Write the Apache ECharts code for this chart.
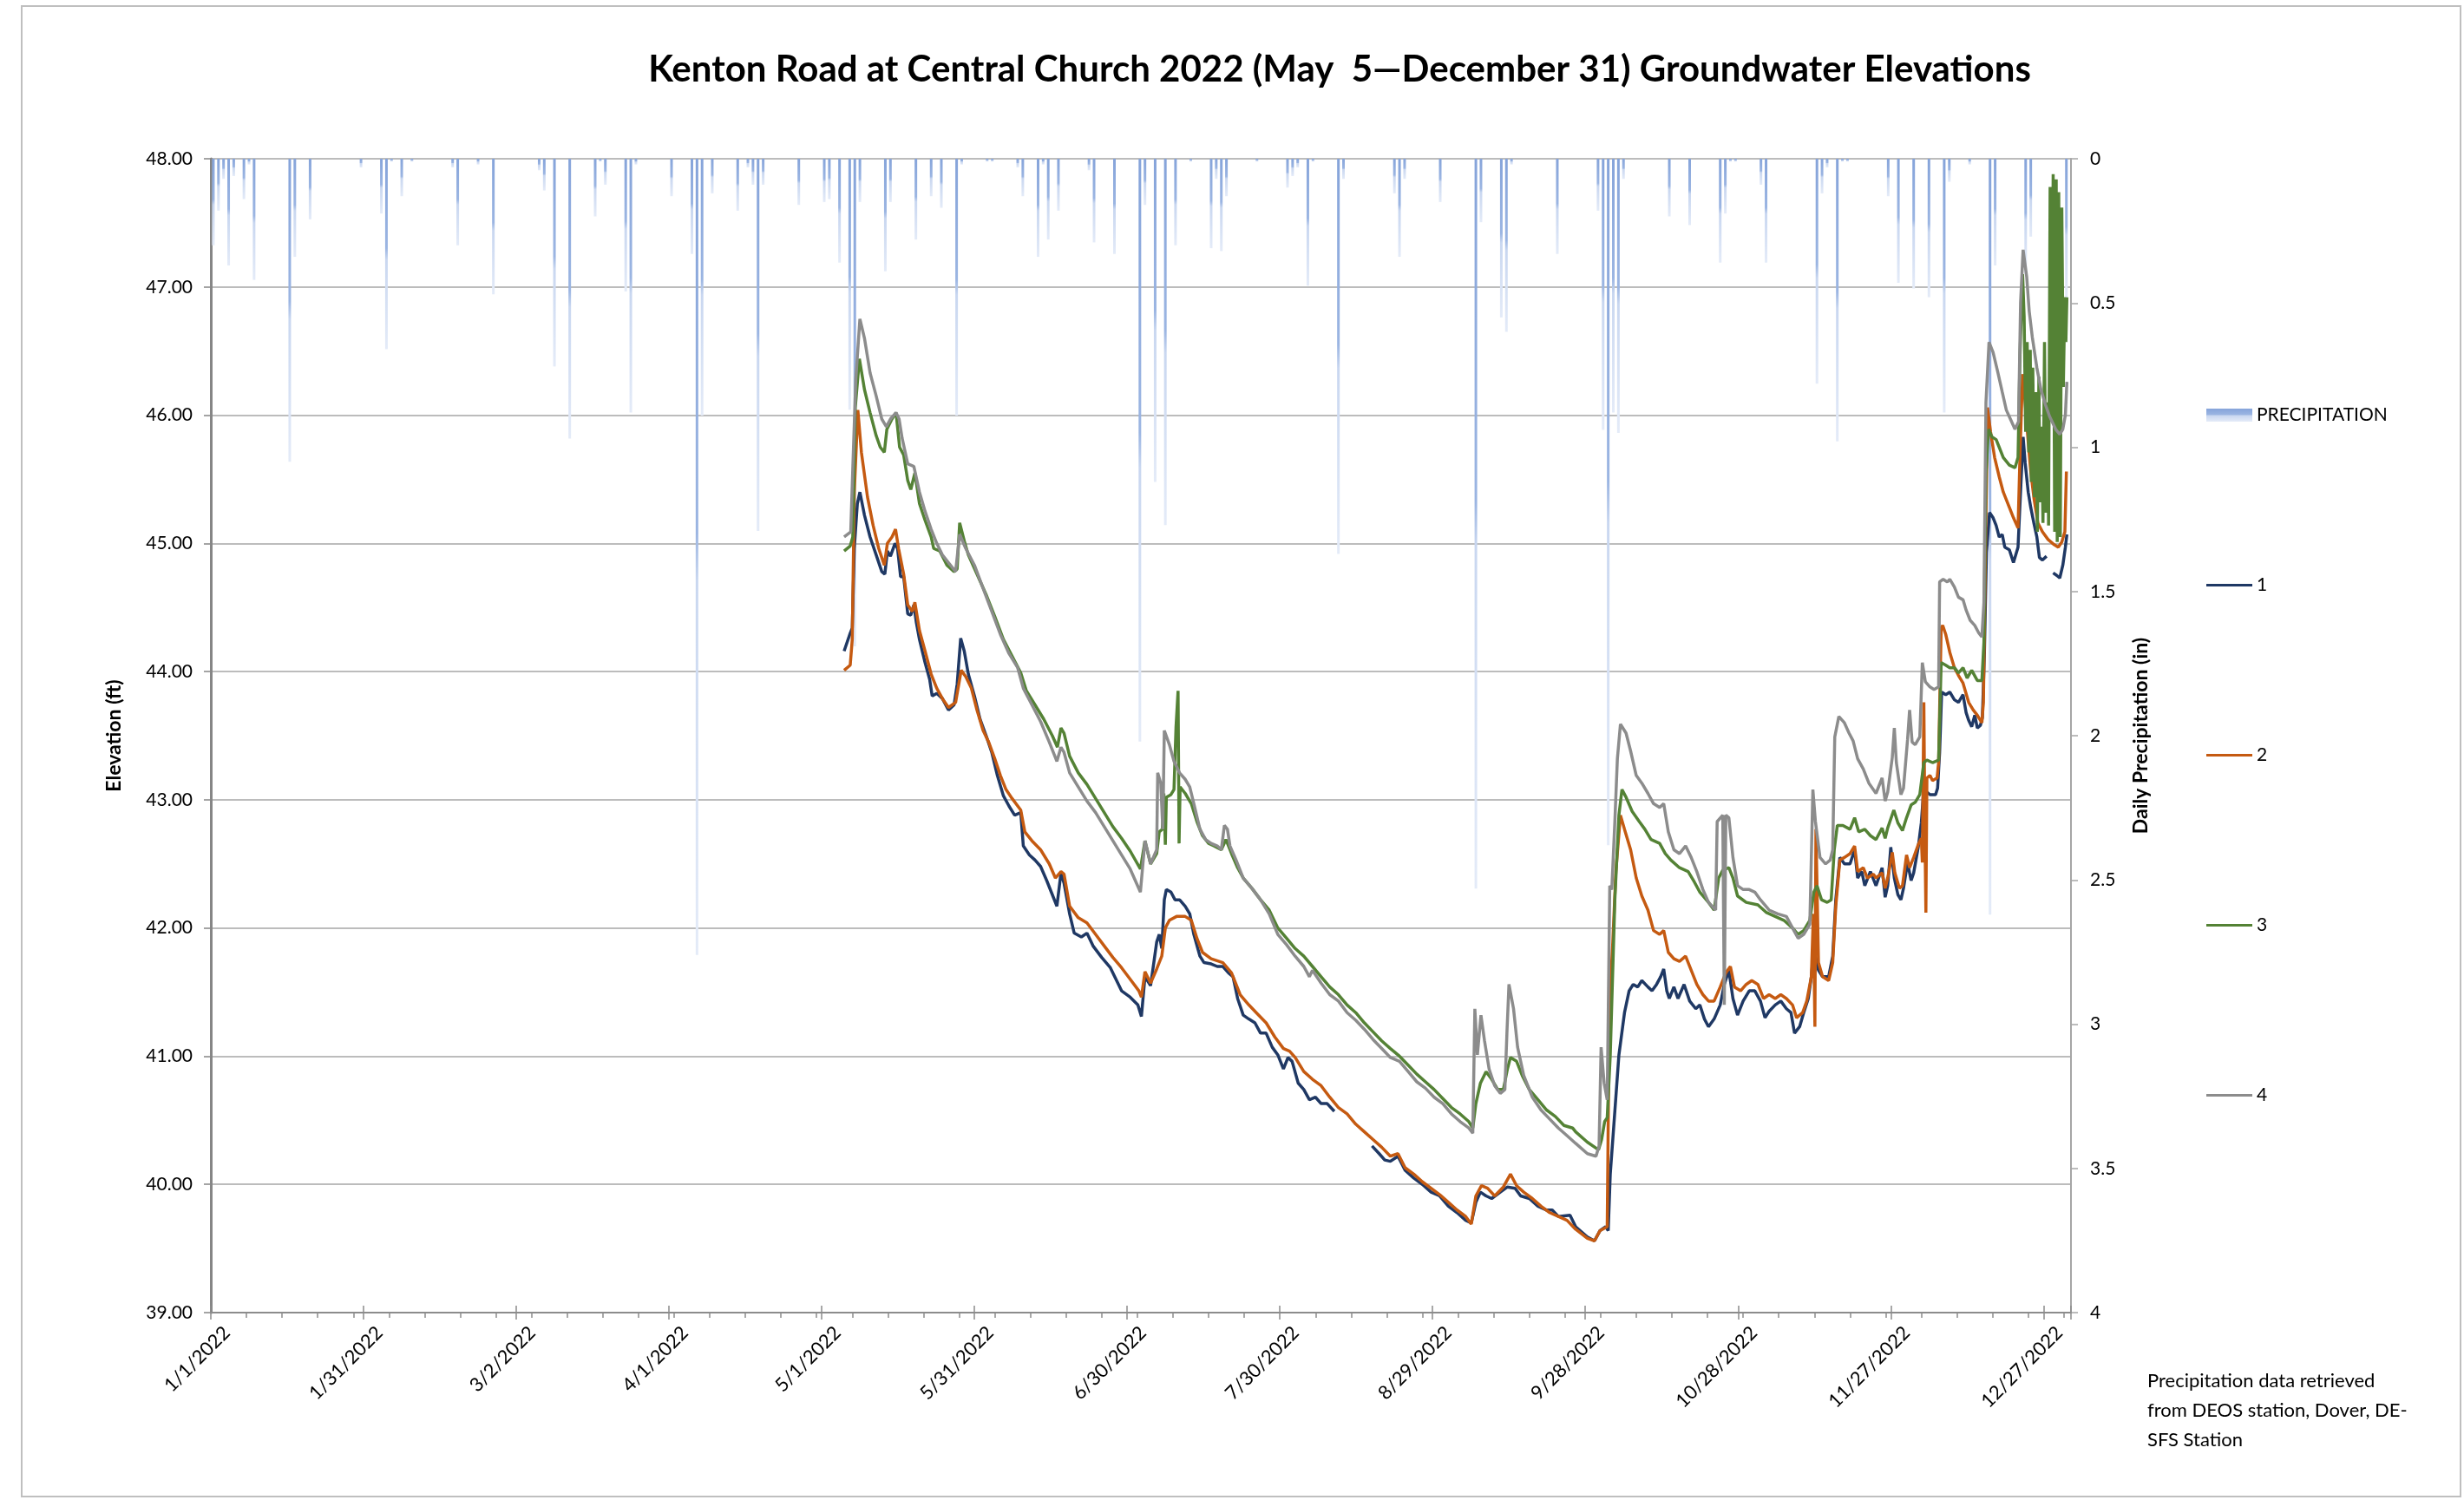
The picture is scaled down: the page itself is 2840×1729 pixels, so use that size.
<!DOCTYPE html>
<html>
<head>
<meta charset="utf-8">
<script src="https://cdn.jsdelivr.net/npm/echarts@6/dist/echarts.min.js"></script>
<style>
  html, body { margin: 0; padding: 0; background: #ffffff; }
  #chart { width: 2840px; height: 1729px; }
</style>
</head>
<body>
<div id="chart"></div>
<script>
// ---- Axis tick labels (one every 30 days from Jan 1) ----
const xTickLabels = ['1/1/2022', '1/31/2022', '3/2/2022', '4/1/2022', '5/1/2022', '5/31/2022',
  '6/30/2022', '7/30/2022', '8/29/2022', '9/28/2022', '10/28/2022', '11/27/2022', '12/27/2022'];

// ---- Daily precipitation, inches (days without rain omitted) ----
const precipitation = [
  ['1/1', 0.30], ['1/2', 0.18], ['1/3', 0.07], ['1/4', 0.37], ['1/5', 0.06], ['1/7', 0.14], ['1/8', 0.02], ['1/9', 0.42],
  ['1/16', 1.05], ['1/17', 0.34], ['1/20', 0.21], ['1/30', 0.03],
  ['2/3', 0.19], ['2/4', 0.66], ['2/5', 0.01], ['2/7', 0.13], ['2/9', 0.01], ['2/17', 0.03], ['2/18', 0.30], ['2/22', 0.02], ['2/25', 0.47],
  ['3/6', 0.04], ['3/7', 0.11], ['3/9', 0.72], ['3/12', 0.97], ['3/17', 0.20], ['3/18', 0.01], ['3/19', 0.09], ['3/23', 0.46], ['3/24', 0.88], ['3/25', 0.02],
  ['4/1', 0.13], ['4/5', 0.33], ['4/6', 2.76], ['4/7', 0.89], ['4/9', 0.12], ['4/14', 0.18], ['4/16', 0.03], ['4/17', 0.09], ['4/18', 1.29], ['4/19', 0.09], ['4/26', 0.16],
  ['5/1', 0.15], ['5/2', 0.14], ['5/4', 0.36], ['5/6', 0.87], ['5/7', 1.69], ['5/8', 0.15], ['5/13', 0.39], ['5/14', 0.15], ['5/19', 0.28], ['5/22', 0.13], ['5/24', 0.17], ['5/27', 0.89], ['5/28', 0.02],
  ['6/2', 0.01], ['6/3', 0.01], ['6/8', 0.03], ['6/9', 0.13], ['6/12', 0.34], ['6/13', 0.02], ['6/14', 0.28], ['6/16', 0.18], ['6/22', 0.04], ['6/23', 0.29], ['6/27', 0.33],
  ['7/2', 2.02], ['7/3', 0.16], ['7/5', 1.12], ['7/7', 1.27], ['7/9', 0.30], ['7/12', 0.01], ['7/16', 0.31], ['7/17', 0.07], ['7/18', 0.32], ['7/19', 0.13], ['7/25', 0.01], ['7/31', 0.10],
  ['8/1', 0.06], ['8/2', 0.03], ['8/4', 0.44], ['8/5', 0.01], ['8/10', 1.37], ['8/11', 0.07], ['8/21', 0.12], ['8/22', 0.34], ['8/23', 0.07], ['8/30', 0.15],
  ['9/6', 2.53], ['9/7', 0.22], ['9/11', 0.55], ['9/12', 0.60], ['9/13', 0.02], ['9/22', 0.33], ['9/30', 0.18],
  ['10/1', 0.94], ['10/2', 2.38], ['10/3', 0.88], ['10/4', 0.95], ['10/5', 0.07], ['10/14', 0.20], ['10/18', 0.23], ['10/24', 0.36], ['10/25', 0.19], ['10/26', 0.01], ['10/27', 0.01],
  ['11/1', 0.09], ['11/2', 0.36], ['11/12', 0.78], ['11/13', 0.12], ['11/14', 0.03], ['11/16', 0.98], ['11/17', 0.01], ['11/18', 0.01], ['11/26', 0.13], ['11/28', 0.43],
  ['12/1', 0.45], ['12/4', 0.48], ['12/7', 0.88], ['12/8', 0.08], ['12/12', 0.02], ['12/16', 2.62], ['12/17', 0.37], ['12/23', 0.40], ['12/24', 0.27], ['12/31', 0.50]
];

// ---- Groundwater elevation (ft) per well: [day of year (0 = Jan 1), elevation] ----
const well1 = [
  [124.4,44.16],[125.6,44.30],[126.0,44.34],[126.4,44.96],[127.0,45.31],[127.5,45.40],[128.4,45.22],[129.5,45.05],[130.7,44.91],[131.8,44.78],
  [132.4,44.76],[132.9,44.94],[133.5,44.90],[134.4,45.00],[134.9,44.96],[135.5,44.74],[136.1,44.74],[136.9,44.45],[137.5,44.44],[138.1,44.52],
  [138.6,44.38],[139.2,44.25],[140.3,44.07],[141.2,43.94],[141.7,43.81],[142.6,43.83],[143.7,43.79],[144.9,43.70],[146.0,43.74],[146.6,43.90],
  [147.3,44.26],[148.0,44.16],[148.8,43.98],[150.0,43.81],[151.1,43.63],[152.3,43.50],[153.4,43.37],[154.5,43.19],[155.7,43.03],[156.8,42.95],
  [157.9,42.88],[159.1,42.90],[159.6,42.64],[160.8,42.57],[161.9,42.53],[163.0,42.48],[164.2,42.37],[165.3,42.26],[166.2,42.17],[167.0,42.43],
  [167.6,42.35],[168.7,42.11],[169.6,41.96],[171.0,41.93],[172.1,41.96],[173.3,41.86],[175.0,41.77],[176.7,41.69],[177.8,41.60],[178.9,41.51],
  [180.6,41.46],[182.1,41.40],[182.8,41.31],[183.5,41.62],[184.6,41.55],[185.8,41.89],[186.3,41.95],[186.8,41.84],[187.3,42.22],[187.7,42.30],
  [188.6,42.28],[189.4,42.22],[190.3,42.22],[191.4,42.17],[192.3,42.11],[193.1,41.95],[194.3,41.78],[195.1,41.73],[196.5,41.72],[197.7,41.70],
  [198.8,41.70],[199.9,41.65],[200.8,41.62],[201.7,41.45],[202.8,41.32],[203.9,41.29],[205.1,41.26],[206.2,41.18],[207.3,41.18],[208.5,41.07],
  [209.6,41.01],[210.7,40.90],[211.6,40.99],[212.4,40.96],[213.6,40.79],[214.7,40.74],[215.8,40.66],[217.0,40.68],[218.1,40.63],[219.3,40.63],
  [220.7,40.57],[224.0,null],[228.1,40.30],[229.5,40.24],[230.6,40.19],[231.7,40.18],[233.2,40.22],[234.6,40.11],[236.3,40.05],[238.0,40.00],
  [239.7,39.94],[241.4,39.91],[243.1,39.83],[244.8,39.78],[246.5,39.72],[247.6,39.70],[248.5,39.86],[249.4,39.94],[250.5,39.91],[251.6,39.89],
  [253.3,39.94],[254.7,39.98],[256.2,39.97],[257.3,39.91],[259.0,39.89],[260.7,39.83],[262.4,39.80],[263.5,39.80],[264.7,39.75],[267.0,39.76],
  [268.1,39.67],[270.4,39.59],[271.8,39.56],[272.9,39.64],[274.0,39.67],[274.5,39.64],[274.9,40.08],[275.8,40.57],[276.6,41.01],[277.7,41.34],
  [278.6,41.51],[279.4,41.56],[280.3,41.54],[281.1,41.59],[282.3,41.54],[283.1,41.51],[284.0,41.56],[284.8,41.62],[285.4,41.68],[286.0,41.51],
  [286.5,41.45],[287.4,41.54],[288.2,41.45],[289.4,41.56],[290.5,41.43],[291.7,41.37],[292.5,41.40],[293.4,41.29],[294.2,41.23],[295.3,41.29],
  [296.5,41.40],[297.3,41.56],[298.2,41.67],[299.0,41.45],[299.9,41.32],[301.0,41.43],[302.2,41.51],[303.3,41.51],[304.4,41.43],[305.3,41.30],
  [306.1,41.35],[307.3,41.40],[308.4,41.43],[309.5,41.37],[310.4,41.34],[311.1,41.18],[312.1,41.23],[312.9,41.34],[313.8,41.45],[314.4,41.62],
  [314.9,41.84],[315.8,41.67],[316.6,41.62],[317.8,41.62],[318.6,41.78],[319.2,42.22],[320.0,42.55],[320.9,42.50],[322.0,42.50],[322.9,42.61],
  [323.5,42.39],[324.3,42.44],[324.9,42.33],[326.0,42.44],[327.1,42.33],[328.3,42.47],[328.9,42.24],[329.4,42.33],[330.0,42.63],[330.7,42.39],
  [331.4,42.26],[332.0,42.22],[332.5,42.31],[333.3,42.51],[334.0,42.37],[334.5,42.43],[335.4,42.63],[336.0,42.82],[336.5,43.09],[337.1,43.06],
  [337.7,43.04],[338.8,43.04],[339.2,43.09],[339.6,43.37],[340.0,43.84],[340.8,43.82],[341.6,43.84],[342.5,43.78],[343.3,43.76],[344.2,43.82],
  [344.8,43.68],[345.3,43.62],[345.9,43.57],[346.5,43.66],[347.0,43.56],[347.6,43.58],[348.0,43.64],[348.4,44.15],[348.8,44.93],[349.4,45.24],
  [350.1,45.20],[350.7,45.14],[351.3,45.05],[351.9,45.07],[352.4,44.97],[353.3,44.95],[354.1,44.85],[355.0,44.97],[355.4,45.32],[356.0,45.83],
  [356.4,45.63],[357.0,45.40],[357.5,45.28],[358.1,45.16],[358.7,45.05],[359.2,44.89],[359.8,44.87],[360.6,44.90],[361.2,null],[361.9,44.77],
  [362.6,44.75],[363.2,44.73],[363.8,44.83],[364.3,44.97],[364.6,45.07]
];

const well2 = [
  [124.4,44.01],[125.6,44.05],[126.0,44.25],[126.4,45.40],[127.1,46.04],[127.8,45.71],[129.0,45.36],[130.1,45.14],[131.2,44.96],[132.3,44.83],
  [132.9,45.00],[133.8,45.05],[134.5,45.11],[135.1,44.96],[136.1,44.76],[136.9,44.52],[137.8,44.47],[138.3,44.54],[139.2,44.32],[140.3,44.16],
  [141.5,43.98],[142.6,43.87],[143.7,43.79],[144.9,43.72],[146.3,43.76],[147.4,44.01],[148.3,43.96],[149.4,43.87],[150.5,43.70],[151.7,43.54],
  [152.8,43.45],[154.0,43.32],[155.1,43.19],[156.2,43.08],[157.4,43.01],[159.1,42.92],[159.9,42.75],[161.3,42.68],[163.0,42.61],[164.7,42.50],
  [165.9,42.39],[167.0,42.44],[167.6,42.42],[168.7,42.17],[170.4,42.08],[172.1,42.04],[173.8,41.95],[175.5,41.86],[177.2,41.77],[178.9,41.69],
  [180.6,41.60],[182.3,41.51],[182.8,41.46],[183.5,41.66],[184.6,41.57],[185.8,41.68],[186.8,41.78],[187.5,42.00],[188.3,42.06],[189.7,42.09],
  [191.4,42.09],[192.6,42.06],[193.7,41.92],[194.8,41.81],[196.5,41.76],[198.8,41.73],[200.5,41.65],[202.2,41.48],[203.9,41.40],[205.6,41.33],
  [207.3,41.26],[209.0,41.15],[210.7,41.06],[211.9,41.04],[213.0,40.99],[214.7,40.88],[216.4,40.82],[218.1,40.77],[219.8,40.68],[221.5,40.60],
  [223.2,40.55],[224.9,40.47],[226.6,40.41],[228.3,40.35],[230.0,40.29],[231.7,40.22],[233.2,40.24],[234.6,40.13],[236.3,40.08],[238.0,40.02],
  [239.7,39.97],[241.4,39.92],[243.1,39.86],[244.8,39.80],[246.5,39.75],[247.6,39.69],[248.5,39.91],[249.6,39.99],[250.8,39.97],[252.2,39.91],
  [253.9,39.98],[255.3,40.08],[256.5,39.99],[257.9,39.94],[259.6,39.89],[261.3,39.83],[263.0,39.78],[264.7,39.75],[266.4,39.72],[268.1,39.65],
  [270.4,39.58],[271.8,39.56],[272.9,39.64],[274.3,39.67],[274.6,40.90],[274.8,41.45],[275.4,41.89],[276.0,42.44],[276.9,42.88],[277.7,42.77],
  [278.9,42.61],[280.0,42.39],[281.1,42.25],[282.3,42.14],[283.4,41.98],[284.6,41.95],[285.4,41.98],[286.3,41.81],[287.4,41.76],[288.5,41.74],
  [289.7,41.78],[290.8,41.67],[291.9,41.56],[293.1,41.48],[294.2,41.43],[295.3,41.43],[296.5,41.54],[297.6,41.65],[298.5,41.70],[299.3,41.54],
  [300.5,41.51],[301.6,41.56],[302.7,41.59],[303.9,41.56],[305.0,41.45],[306.1,41.48],[307.3,41.45],[308.4,41.48],[309.5,41.45],[310.7,41.40],
  [311.5,41.30],[312.7,41.34],[313.5,41.43],[314.4,41.62],[314.8,42.11],[315.1,41.23],[315.3,42.77],[315.8,41.73],[316.6,41.62],[317.8,41.59],
  [318.6,41.73],[319.2,42.17],[320.0,42.53],[320.9,42.55],[322.0,42.58],[322.9,42.64],[323.5,42.44],[324.6,42.47],[325.4,42.39],[326.6,42.42],
  [327.1,42.39],[328.3,42.43],[328.9,42.31],[329.4,42.39],[330.3,42.59],[330.8,42.43],[331.7,42.31],[332.3,42.33],[333.1,42.57],[333.7,42.47],
  [334.5,42.55],[335.4,42.65],[336.0,42.70],[336.2,42.51],[336.5,43.76],[336.7,42.78],[336.9,42.12],[337.1,43.17],[337.7,43.19],[338.2,43.15],
  [339.1,43.17],[339.4,43.29],[339.9,44.34],[340.2,44.36],[340.8,44.29],[341.6,44.15],[342.5,44.03],[343.3,43.97],[344.2,43.91],[345.3,43.76],
  [346.2,43.70],[347.0,43.66],[347.9,43.60],[348.2,43.76],[348.6,44.93],[349.0,46.06],[349.6,45.87],[350.4,45.67],[351.3,45.52],[352.1,45.40],
  [353.3,45.28],[354.1,45.20],[355.0,45.12],[355.4,45.71],[355.9,46.32],[356.4,46.10],[357.0,45.79],[357.5,45.56],[358.1,45.36],[358.9,45.16],
  [359.8,45.09],[360.9,45.03],[362.1,44.99],[362.9,44.97],[363.6,45.01],[364.2,45.09],[364.5,45.56]
];

const well3 = [
  [124.4,44.94],[125.6,44.98],[126.1,45.05],[126.6,46.06],[127.4,46.44],[128.4,46.20],[129.5,46.02],[130.7,45.84],[131.5,45.75],[132.3,45.71],
  [132.8,45.89],[133.8,45.97],[134.6,46.02],[135.3,45.75],[136.1,45.69],[136.9,45.49],[137.5,45.42],[138.3,45.55],[139.2,45.31],[140.3,45.18],
  [141.5,45.05],[142.0,44.96],[143.2,44.94],[144.6,44.83],[146.0,44.78],[146.6,44.80],[147.1,45.16],[148.0,45.02],[148.8,44.91],[150.5,44.76],
  [152.3,44.60],[154.0,44.43],[155.7,44.25],[157.4,44.12],[159.1,43.99],[160.2,43.85],[161.9,43.74],[163.6,43.63],[165.3,43.50],[166.3,43.41],
  [167.0,43.56],[167.6,43.52],[168.7,43.34],[170.4,43.21],[172.1,43.12],[173.8,43.01],[175.5,42.90],[177.2,42.79],[178.9,42.70],[180.6,42.60],
  [182.6,42.46],[183.5,42.68],[184.6,42.50],[185.8,42.58],[186.3,42.75],[186.9,42.77],[187.2,43.05],[187.5,42.65],[187.7,43.02],[188.6,43.04],
  [189.2,43.08],[189.6,43.57],[190.0,43.85],[190.2,42.66],[190.4,43.10],[191.4,43.05],[192.6,42.97],[193.7,42.83],[194.8,42.72],[196.0,42.66],
  [197.1,42.64],[198.5,42.61],[199.4,42.69],[200.5,42.58],[201.7,42.47],[202.8,42.39],[204.5,42.31],[206.2,42.22],[207.9,42.14],[209.6,42.00],
  [211.3,41.92],[213.0,41.84],[214.7,41.78],[216.4,41.70],[218.1,41.62],[219.8,41.54],[221.5,41.48],[223.2,41.40],[224.9,41.34],[226.6,41.26],
  [228.3,41.19],[230.0,41.12],[231.7,41.06],[233.5,41.00],[235.2,40.93],[236.9,40.86],[238.6,40.80],[240.3,40.74],[242.0,40.67],[243.7,40.60],
  [245.4,40.55],[247.1,40.49],[247.9,40.44],[248.5,40.63],[249.4,40.79],[250.5,40.88],[251.6,40.82],[252.8,40.74],[253.9,40.74],[254.7,40.90],
  [255.3,40.99],[256.5,40.96],[257.6,40.85],[259.0,40.74],[260.7,40.66],[262.4,40.58],[264.1,40.53],[265.8,40.46],[267.5,40.44],[268.1,40.41],
  [270.4,40.33],[272.6,40.27],[273.2,40.35],[273.8,40.49],[274.3,40.52],[274.9,41.01],[275.8,42.22],[276.6,42.88],[277.2,43.08],[278.0,43.02],
  [279.2,42.91],[280.6,42.83],[281.7,42.77],[282.9,42.69],[284.6,42.66],[285.7,42.58],[286.8,42.53],[288.5,42.47],[290.2,42.44],[291.4,42.36],
  [292.5,42.28],[294.2,42.20],[295.3,42.14],[296.2,42.39],[297.0,42.45],[298.2,42.47],[299.0,42.39],[299.9,42.25],[301.6,42.20],[303.9,42.18],
  [305.6,42.12],[307.3,42.09],[309.0,42.06],[310.7,42.00],[311.8,41.95],[312.9,41.98],[314.1,42.06],[314.9,42.28],[315.5,42.33],[316.4,42.22],
  [317.5,42.20],[318.3,42.22],[318.9,42.61],[319.5,42.80],[320.6,42.80],[322.0,42.77],[322.9,42.86],[323.7,42.75],[324.9,42.77],[326.0,42.72],
  [327.1,42.69],[328.3,42.78],[328.9,42.70],[329.4,42.78],[330.6,42.92],[331.4,42.82],[332.3,42.76],[333.1,42.86],[334.0,42.96],[334.8,42.98],
  [335.7,43.04],[336.5,43.29],[337.1,43.31],[338.2,43.29],[339.4,43.31],[339.9,44.07],[340.8,44.05],[341.6,44.03],[342.5,44.03],[343.3,43.99],
  [344.2,44.03],[345.0,43.95],[345.9,44.01],[347.0,43.93],[347.9,43.93],[348.3,44.23],[348.7,45.55],[349.2,45.89],[349.9,45.83],[350.7,45.81],
  [351.3,45.75],[352.1,45.67],[353.3,45.61],[354.4,45.59],[355.0,45.67],[355.4,46.49],[355.9,47.10],[356.2,46.77],[356.5,45.87],[356.8,46.57],
  [357.1,45.71],[357.4,46.51],[357.6,45.48],[357.9,46.37],[358.2,45.36],[358.5,46.18],[358.8,45.09],[359.1,46.30],[359.3,45.32],[359.6,45.91],
  [359.9,45.16],[360.2,46.57],[360.5,45.24],[360.8,46.10],[361.0,45.14],[361.3,47.78],[361.6,45.95],[361.9,47.88],[362.2,45.09],[362.5,47.84],
  [362.7,45.01],[363.0,47.74],[363.3,45.05],[363.6,47.62],[363.9,46.22],[364.2,46.92],[364.4,46.57],[364.6,46.92]
];

const well4 = [
  [124.4,45.05],[125.7,45.09],[126.1,45.58],[126.7,46.28],[127.5,46.75],[128.4,46.60],[129.5,46.33],[130.7,46.15],[131.8,45.97],[132.7,45.91],
  [133.5,45.97],[134.6,46.02],[135.2,45.97],[135.8,45.82],[136.9,45.62],[138.1,45.60],[139.2,45.40],[140.3,45.25],[141.5,45.11],[142.6,45.00],
  [143.7,44.91],[144.9,44.85],[146.3,44.78],[147.1,45.07],[148.3,44.96],[150.0,44.83],[151.7,44.65],[153.4,44.47],[155.1,44.29],[156.8,44.14],
  [158.5,44.03],[159.6,43.87],[161.3,43.74],[163.0,43.61],[164.7,43.45],[166.2,43.30],[167.0,43.41],[167.6,43.37],[168.7,43.21],[170.4,43.10],
  [172.1,42.99],[173.8,42.90],[175.5,42.79],[177.2,42.68],[178.9,42.57],[180.6,42.46],[182.6,42.28],[183.5,42.68],[184.6,42.50],[185.8,42.61],
  [186.0,43.21],[186.6,43.13],[187.0,42.77],[187.3,43.54],[188.3,43.43],[189.2,43.30],[190.3,43.21],[191.4,43.16],[192.3,43.10],[193.1,42.97],
  [194.3,42.77],[195.4,42.69],[196.5,42.66],[197.7,42.64],[198.5,42.61],[199.1,42.80],[199.7,42.77],[200.2,42.64],[201.4,42.53],[202.8,42.39],
  [204.5,42.31],[206.2,42.22],[207.9,42.11],[209.6,41.95],[211.3,41.87],[213.0,41.78],[214.7,41.70],[215.8,41.62],[216.4,41.67],[218.1,41.57],
  [219.8,41.48],[221.5,41.43],[223.2,41.34],[224.9,41.28],[226.6,41.21],[228.3,41.13],[230.0,41.06],[231.7,40.99],[233.5,40.96],[235.2,40.88],
  [236.9,40.80],[238.6,40.75],[240.3,40.68],[242.0,40.63],[243.7,40.55],[245.4,40.49],[247.1,40.44],[247.9,40.40],[248.3,41.37],[248.8,41.01],
  [249.5,41.32],[250.2,41.12],[251.1,40.90],[252.2,40.77],[253.3,40.71],[254.2,40.74],[254.6,41.18],[255.0,41.56],[255.9,41.37],[256.7,41.07],
  [257.9,40.85],[259.6,40.68],[261.3,40.58],[263.0,40.51],[264.7,40.44],[266.4,40.38],[268.1,40.32],[270.4,40.24],[272.1,40.22],[272.7,40.30],
  [273.1,41.07],[273.7,40.79],[274.3,40.66],[274.8,42.33],[275.2,42.30],[275.8,42.83],[276.3,43.32],[276.9,43.59],[278.0,43.52],[278.9,43.38],
  [280.0,43.19],[281.1,43.13],[282.3,43.05],[283.4,42.97],[284.6,42.94],[285.4,42.97],[286.3,42.75],[287.4,42.61],[288.5,42.58],[289.7,42.64],
  [290.8,42.55],[291.9,42.44],[293.1,42.30],[294.2,42.20],[295.6,42.14],[295.9,42.83],[297.0,42.88],[297.3,41.40],[297.6,42.88],[298.2,42.86],
  [299.0,42.55],[299.9,42.33],[301.0,42.30],[302.2,42.30],[303.3,42.28],[304.4,42.22],[306.1,42.14],[307.8,42.11],[309.5,42.09],[310.7,42.00],
  [311.8,41.92],[312.9,41.95],[314.1,42.03],[314.7,43.08],[315.2,42.83],[316.1,42.55],[317.2,42.50],[318.1,42.53],[318.6,42.61],[319.0,43.49],
  [319.8,43.65],[320.9,43.60],[321.8,43.52],[322.6,43.46],[323.5,43.32],[324.6,43.24],[325.7,43.13],[327.1,43.05],[328.3,43.17],[328.9,42.99],
  [329.4,43.06],[330.3,43.33],[330.7,43.56],[331.1,43.29],[332.0,43.04],[332.5,43.09],[333.3,43.47],[333.7,43.70],[334.2,43.45],[334.8,43.43],
  [335.7,43.49],[336.2,44.07],[336.8,43.92],[337.7,43.88],[338.5,43.86],[339.4,43.88],[339.6,44.70],[340.3,44.72],[341.1,44.70],[341.6,44.72],
  [342.5,44.66],[343.3,44.58],[344.2,44.56],[344.8,44.48],[345.6,44.40],[346.5,44.36],[347.3,44.30],[347.9,44.27],[348.3,44.54],[348.7,46.10],
  [349.3,46.57],[350.1,46.49],[351.0,46.34],[351.9,46.18],[352.7,46.04],[353.5,45.97],[354.4,45.89],[355.1,45.95],[355.5,46.88],[356.0,47.29],
  [356.7,47.08],[357.2,46.81],[357.8,46.61],[358.7,46.37],[359.5,46.20],[360.4,46.08],[361.2,45.99],[362.4,45.89],[363.2,45.85],[363.8,45.89],
  [364.3,46.00],[364.6,46.26]
];

const wellNames = ['1', '2', '3', '4'];
const wellColors = ['#1f3864', '#c55a11', '#548235', '#8c8c8c'];
const wells = [well1, well2, well3, well4];

const titleText = 'Kenton Road at Central Church 2022 (May  5\u2014December 31) Groundwater Elevations';
const sourceNote = 'Precipitation data retrieved\nfrom DEOS station, Dover, DE-\nSFS Station';

// Day of year (0 = Jan 1) for an 'M/D' string in 2022
function dayOfYear(md) {
  const [m, d] = md.split('/').map(Number);
  return (Date.UTC(2022, m - 1, d) - Date.UTC(2022, 0, 1)) / 86400000;
}

const FONT = 'Lato';
const X_MAX = 365.4;
// plain line swatch for the well entries of the legend (53 x 15 box, 3 px stroke)
const LINE_ICON = 'path://M0,0h0.01v0.01h-0.01z M0,6h53v3h-53z M0,14.99h0.01v0.01h-0.01z';

const chart = echarts.init(document.getElementById('chart'), null, { renderer: 'canvas' });

const precipGradient = new echarts.graphic.LinearGradient(0, 0, 0, 1, [
  { offset: 0, color: '#86a4da' },
  { offset: 0.47, color: '#9bb5e2' },
  { offset: 0.53, color: '#c9d7f0' },
  { offset: 1, color: '#e4ebf8' }
]);

const baseX = {
  type: 'value', min: 0, max: X_MAX, position: 'bottom',
  axisLine: { show: false, onZero: false },
  axisLabel: { show: false },
  splitLine: { show: false }
};

const option = {
  animation: false,
  backgroundColor: '#ffffff',
  textStyle: { fontFamily: FONT },
  title: {
    text: titleText,
    left: 1539, top: 54, textAlign: 'center',
    textStyle: { fontFamily: FONT, fontSize: 42, fontWeight: 'bold', color: '#000' }
  },
  grid: { left: 243, top: 183, width: 2144, height: 1330, containLabel: false },
  legend: {
    orient: 'vertical', left: 2538, top: 463,
    itemWidth: 53, itemHeight: 15, itemGap: 175,
    selectedMode: false,
    textStyle: { fontFamily: FONT, fontSize: 21, color: '#000', lineHeight: 21 },
    data: [{ name: 'PRECIPITATION', icon: 'rect' }].concat(wellNames.map(n => ({ name: n, icon: LINE_ICON })))
  },
  xAxis: [
    {
      type: 'value', min: 0, max: X_MAX, interval: 30, position: 'bottom',
      axisLine: { show: true, onZero: false, lineStyle: { color: '#8c8c8c', width: 2 } },
      axisTick: { show: true, length: 8, lineStyle: { color: '#8c8c8c', width: 1.5 } },
      axisLabel: {
        rotate: 45, fontSize: 22, fontFamily: FONT, color: '#000', margin: 38,
        padding: [0, -26, 0, 0],
        formatter: v => xTickLabels[v / 30] || ''
      },
      splitLine: { show: false }
    },
    Object.assign({}, baseX, {
      interval: 7,
      axisTick: { show: true, length: 6, lineStyle: { color: '#8c8c8c', width: 1.5 } }
    }),
    Object.assign({}, baseX, {
      interval: 30,
      axisTick: { show: true, inside: true, length: 8, lineStyle: { color: '#8c8c8c', width: 1.5 } }
    })
  ],
  yAxis: [
    {
      type: 'value', min: 39, max: 48, interval: 1, position: 'left',
      name: 'Elevation (ft)', nameLocation: 'middle', nameGap: 100, nameRotate: 90,
      nameTextStyle: { fontFamily: FONT, fontSize: 23, fontWeight: 'bold', color: '#000' },
      axisLine: { show: true, onZero: false, lineStyle: { color: '#868686', width: 3 } },
      axisTick: { show: true, length: 8, lineStyle: { color: '#868686', width: 1.5 } },
      axisLabel: { fontSize: 21, fontFamily: FONT, color: '#000', margin: 21, formatter: v => v.toFixed(2) },
      splitLine: { show: true, lineStyle: { color: '#a6a6a6', width: 1.5 } }
    },
    {
      type: 'value', min: 0, max: 4, interval: 0.5, inverse: true, position: 'right',
      name: 'Daily Precipitation (in)', nameLocation: 'middle', nameGap: 69, nameRotate: 90,
      nameTextStyle: { fontFamily: FONT, fontSize: 23, fontWeight: 'bold', color: '#000' },
      axisLine: { show: true, onZero: false, lineStyle: { color: '#a6a6a6', width: 2 } },
      axisTick: { show: true, length: 8, lineStyle: { color: '#a6a6a6', width: 1.5 } },
      axisLabel: { fontSize: 21, fontFamily: FONT, color: '#000', margin: 22 },
      splitLine: { show: false }
    }
  ],
  series: [
    {
      name: 'PRECIPITATION', type: 'bar', xAxisIndex: 0, yAxisIndex: 1,
      barWidth: 3,
      itemStyle: { color: precipGradient },
      // each daily total is drawn at the middle of its day
      data: precipitation.map(([md, v]) => [dayOfYear(md) + 0.5, v])
    }
  ].concat(wells.map((w, i) => ({
    name: wellNames[i], type: 'line', xAxisIndex: 0, yAxisIndex: 0,
    showSymbol: false, symbol: 'none', connectNulls: false,
    lineStyle: { width: 3.5, color: wellColors[i] },
    itemStyle: { color: wellColors[i] },
    data: w
  }))),
  graphic: [
    {
      type: 'rect', silent: true, z: -10,
      shape: { x: 25, y: 7, width: 2811, height: 1718 },
      style: { fill: 'none', stroke: '#bfbfbf', lineWidth: 2 }
    },
    {
      type: 'text', x: 2475, y: 1575, silent: true,
      style: { text: sourceNote, fontFamily: FONT, fontSize: 22, lineHeight: 34, fill: '#000' }
    }
  ]
};

chart.setOption(option);
</script>
</body>
</html>
